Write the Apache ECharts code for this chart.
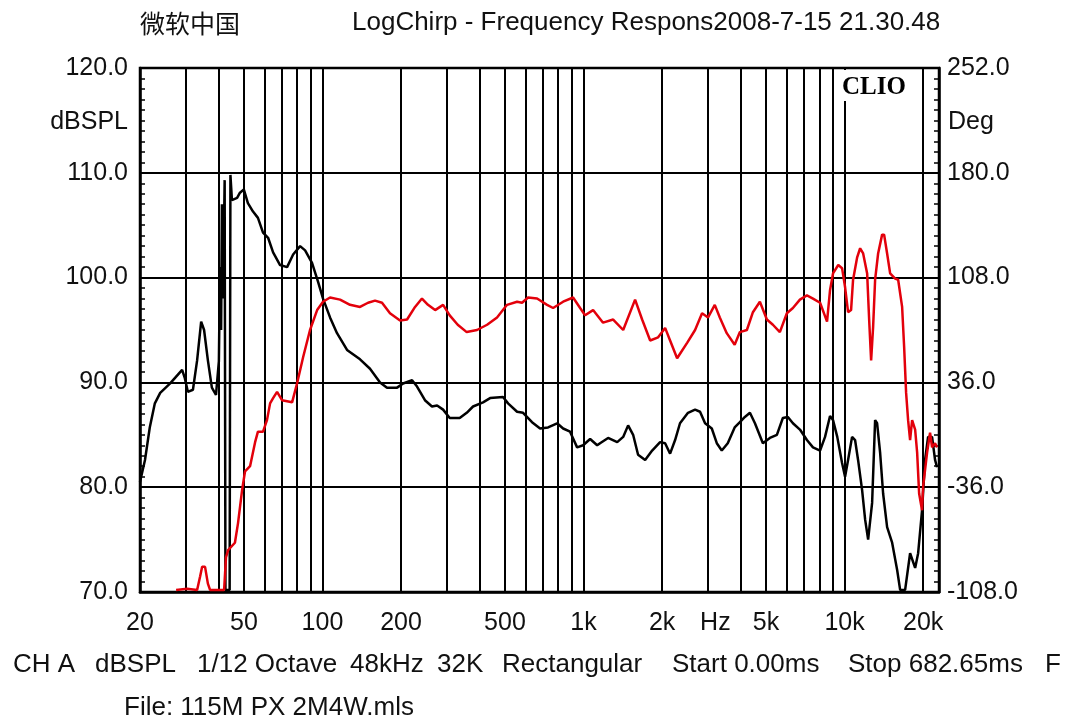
<!DOCTYPE html>
<html><head><meta charset="utf-8">
<script src="https://cdn.jsdelivr.net/npm/echarts@6/dist/echarts.min.js"></script>
<style>html,body{margin:0;padding:0;background:#fff}#c{width:1066px;height:722px}</style>
</head><body><div id="c"></div>
<script>
// ---- data ----
const freqBlack = [20,20.9,21.8,22.8,23.9,26.1,29.0,29.7,30.5,31.9,
  33.1,34.3,35.2,36.4,37.7,39.1,40.1,40.5,40.9,41.2,
  41.6,42.2,42.5,44.1,44.4,45.0,47.1,48.3,50.0,51.8,
  54.2,56.6,59.2,61.9,64.7,68.8,73.2,77.2,82.1,85.8,
  91.2,96.2,100.5,106.9,113.7,124.2,139.3,152.1,166.2,176.7,
  193.1,203.6,220.4,230.3,246.9,262.7,274.9,289.8,307.2,335.5,
  356.9,377.4,412.2,438.6,491.7,513.9,556.5,586.8,635,681.7,
  731.6,792.2,835.4,888.2,945.1,996.5,1060,1128,1157,1242,
  1346,1419,1482,1549,1618,1722,1832,1965,2054,2146,
  2243,2342,2513,2675,2795,2922,3100,3240,3385,3569,
  3793,3972,4151,4340,4536,4865,5175,5505,5802,6064,
  6341,6745,7175,7567,8057,8418,8796,9032,9376,9782,
  10044,10314,10684,10971,11265,11676,11989,12311,12750,13092,
  13325,13682,14049,14554,15213,15901,16325,17060,17825,18635,
  19135,19806,20338,20889,21635,22213,22609];
const splBlack = [80.5,82.6,85.7,88.0,89.0,89.9,91.2,90.4,89.1,89.3,
  92.1,95.8,95.0,92.1,89.5,88.8,92.0,101.0,95.0,107.0,
  98.0,109.3,70.2,70.2,109.8,107.4,107.6,108.1,108.4,107.1,
  106.3,105.7,104.3,103.8,102.4,101.2,101.0,102.2,103.0,102.6,
  101.4,99.6,98.0,96.2,94.7,93.1,92.2,91.3,90.0,89.5,
  89.5,89.9,90.2,89.6,88.3,87.7,87.8,87.4,86.6,86.6,
  87.1,87.7,88.1,88.5,88.6,88.0,87.2,87.1,86.2,85.6,
  85.7,86.1,85.6,85.3,83.8,84.0,84.6,84.0,84.2,84.7,
  84.3,84.8,85.9,85.0,83.1,82.6,83.5,84.3,84.2,83.2,
  84.5,86.1,87.1,87.4,87.2,86.1,85.6,84.2,83.5,84.2,
  85.7,86.2,86.7,87.1,86.1,84.2,84.7,85.0,86.6,86.7,
  86.1,85.5,84.5,83.8,83.5,84.8,86.8,86.4,84.8,82.3,
  81.0,82.6,84.8,84.5,82.6,79.7,76.9,75.0,78.5,86.4,
  86.1,83.3,79.4,76.2,74.7,72.1,70.2,70.2,73.7,72.3,
  73.7,77.8,82.6,84.8,84.8,82.6,81.9];

const freqRed = [27.5,30.3,33.1,34.0,34.6,35.5,36.4,37.1,42.0,42.7,
  43.5,46.2,47.5,49.2,50.5,52.8,55.2,56.6,59.2,61.3,
  63.0,64.7,67.0,70,76.5,79.9,84.3,89.6,95.4,100.5,
  106.9,116.8,127.5,139.3,149.5,159,169.1,181.4,198.2,210.9,
  226.3,240.5,253.6,270.1,289.8,307.2,329.7,356.9,390.9,427.2,
  466.4,509.3,556.5,581.6,613,664,725.1,764.8,835.4,912,
  970.4,1014,1088,1188,1299,1419,1576,1677,1800,1931,
  2054,2146,2283,2497,2675,2845,3000,3183,3327,3537,
  3793,3972,4225,4456,4738,5040,5314,5651,6011,6341,
  6745,7175,7567,8057,8568,8796,9032,9458,9782,10044,
  10314,10591,10779,11166,11472,11780,12203,12420,12639,12864,
  13092,13444,13926,14174,14554,14947,15624,16042,16614,16910,
  17209,17514,17825,18143,18635,18967,19303,19806,19982,20706,
  21256,21635,22213,22609];
const splRed = [70.2,70.3,70.2,71.5,72.4,72.4,70.8,70.2,70.2,73.3,
  74.0,74.7,76.6,79.7,81.5,82.0,84.3,85.3,85.3,86.4,
  88.0,88.5,89.1,88.3,88.1,89.9,92.4,95.0,96.9,97.7,
  98.1,97.9,97.4,97.2,97.6,97.8,97.6,96.6,95.9,96.0,
  97.2,98.0,97.4,96.9,97.4,96.4,95.5,94.8,95.0,95.5,
  96.2,97.4,97.7,97.6,98.1,98.0,97.4,97.1,97.7,98.1,
  97.1,96.4,96.9,95.7,96.0,95.0,97.9,96.0,94.0,94.3,
  95.2,94.0,92.3,93.8,95.0,96.6,96.2,97.4,96.2,94.7,
  93.6,94.8,95.0,96.7,97.7,96.0,95.5,94.8,96.6,97.1,
  97.9,98.3,98.0,97.6,95.8,98.8,100.4,101.2,100.9,99.1,
  96.7,96.9,99.8,101.9,102.8,102.3,100.4,96.0,92.1,95.3,
  99.8,102.3,104.1,104.1,102.3,100.4,99.9,99.8,97.2,93.4,
  89.0,86.4,84.5,86.4,85.5,83.3,79.4,77.8,80.0,83.3,
  85.2,83.8,84.2,83.8];

const gridFreqs = [30,40,50,60,70,80,90,100,200,300,400,500,600,700,800,900,
  1000,2000,3000,4000,5000,6000,7000,8000,9000,10000,20000];
const xTickValues = [20,50,100,200,500,1000,2000,3200,5000,10000,20000];
const xTickLabels = ['20','50','100','200','500','1k','2k','Hz','5k','10k','20k'];
const degLabels = ['-108.0','-36.0','36.0','108.0','180.0','252.0'];

const FONT = "'Liberation Sans', Arial, sans-serif";

function zip(a,b){ return a.map((v,i)=>[v,b[i]]); }
function xLabel(v){
  let best=0, bd=Infinity;
  xTickValues.forEach((t,i)=>{ const d=Math.abs(Math.log10(v)-Math.log10(t)); if(d<bd){bd=d;best=i;} });
  return bd<0.01 ? xTickLabels[best] : '';
}

const chart = echarts.init(document.getElementById('c'), null, {renderer:'canvas'});
const option = {
  animation:false,
  backgroundColor:'#ffffff',
  grid:{left:140,right:127,top:68,bottom:130,show:true,borderColor:'#000',borderWidth:2.5,backgroundColor:'#fff'},
  xAxis:{
    type:'log', logBase:10, min:20, max:23000,
    axisLine:{show:true,lineStyle:{color:'#000',width:2.5}},
    axisTick:{show:false},
    splitLine:{show:false},
    minorTick:{show:false},
    minorSplitLine:{show:false},
    axisLabel:{customValues:xTickValues, formatter:xLabel, fontFamily:FONT, fontSize:25, color:'#111', margin:19, showMinLabel:true, showMaxLabel:true, hideOverlap:false}
  },
  yAxis:[{
    type:'value', min:70, max:120, interval:10, position:'left',
    axisLine:{show:true,lineStyle:{color:'#000',width:2.5}},
    axisTick:{show:true,inside:true,length:6,lineStyle:{color:'#000',width:1.5}},
    minorTick:{show:true,splitNumber:10,length:5,lineStyle:{color:'#000',width:1.5}},
    splitLine:{show:true,lineStyle:{color:'#000',width:2}},
    axisLabel:{formatter:v=>v.toFixed(1), fontFamily:FONT, fontSize:25, color:'#111', margin:12}
  },{
    type:'value', min:70, max:120, interval:10, position:'right',
    axisLine:{show:true,lineStyle:{color:'#000',width:2.5}},
    axisTick:{show:true,inside:true,length:6,lineStyle:{color:'#000',width:1.5}},
    minorTick:{show:true,splitNumber:10,length:5,lineStyle:{color:'#000',width:1.5}},
    splitLine:{show:false},
    axisLabel:{formatter:v=>degLabels[Math.round((v-70)/10)], fontFamily:FONT, fontSize:25, color:'#111', margin:8}
  }],
  series:[
    {type:'line', name:'grid', data:[], z:1, silent:true,
     markLine:{silent:true, symbol:['none','none'], z:1, animation:false,
       label:{show:false}, lineStyle:{color:'#000',width:2,type:'solid'},
       emphasis:{disabled:true},
       data:gridFreqs.map(f=>({xAxis:f}))}},
    {type:'line', name:'SPL', data:zip(freqBlack,splBlack), showSymbol:false, symbol:'none', z:3,
     lineStyle:{color:'#000',width:2.5}, itemStyle:{color:'#000'}},
    {type:'line', name:'Red', data:zip(freqRed,splRed), showSymbol:false, symbol:'none', z:4,
     lineStyle:{color:'#e3000b',width:2.5}, itemStyle:{color:'#e3000b'}}
  ],
  graphic:[
    {type:'rect', z:100, shape:{x:838,y:70,width:74,height:31}, style:{fill:'#fff'}},
    {type:'text', z:101, x:874, y:88, style:{text:'CLIO', font:"bold 25px 'Liberation Serif', serif", fill:'#000', align:'center', verticalAlign:'middle'}},
    {type:'text', z:101, x:140, y:23, style:{text:'微软中国', font:"25px 'Noto Sans CJK SC', sans-serif", fill:'#111', align:'left', verticalAlign:'middle'}},
    {type:'text', z:101, x:352, y:23, style:{text:'LogChirp - Frequency Respons2008-7-15 21.30.48', font:"26px "+FONT, fill:'#111', align:'left', verticalAlign:'middle'}},
    {type:'text', z:101, x:128, y:122, style:{text:'dBSPL', font:"25px "+FONT, fill:'#111', align:'right', verticalAlign:'middle'}},
    {type:'text', z:101, x:948, y:122, style:{text:'Deg', font:"25px "+FONT, fill:'#111', align:'left', verticalAlign:'middle'}},
    {type:'text', z:101, x:13, y:665, style:{text:'CH A', font:"26px "+FONT, fill:'#111', verticalAlign:'middle'}},
    {type:'text', z:101, x:95, y:665, style:{text:'dBSPL', font:"26px "+FONT, fill:'#111', verticalAlign:'middle'}},
    {type:'text', z:101, x:197, y:665, style:{text:'1/12 Octave', font:"26px "+FONT, fill:'#111', verticalAlign:'middle'}},
    {type:'text', z:101, x:350, y:665, style:{text:'48kHz', font:"26px "+FONT, fill:'#111', verticalAlign:'middle'}},
    {type:'text', z:101, x:437, y:665, style:{text:'32K', font:"26px "+FONT, fill:'#111', verticalAlign:'middle'}},
    {type:'text', z:101, x:502, y:665, style:{text:'Rectangular', font:"26px "+FONT, fill:'#111', verticalAlign:'middle'}},
    {type:'text', z:101, x:672, y:665, style:{text:'Start 0.00ms', font:"26px "+FONT, fill:'#111', verticalAlign:'middle'}},
    {type:'text', z:101, x:848, y:665, style:{text:'Stop 682.65ms', font:"26px "+FONT, fill:'#111', verticalAlign:'middle'}},
    {type:'text', z:101, x:1045, y:665, style:{text:'F', font:"26px "+FONT, fill:'#111', verticalAlign:'middle'}},
    {type:'text', z:101, x:124, y:708, style:{text:'File: 115M PX 2M4W.mls', font:"26px "+FONT, fill:'#111', verticalAlign:'middle'}}
  ]
};
chart.setOption(option);
</script></body></html>
